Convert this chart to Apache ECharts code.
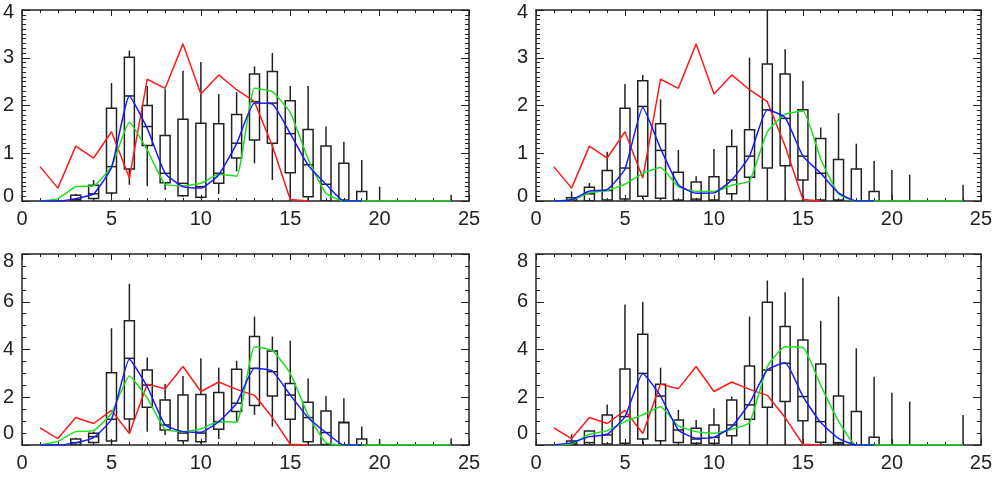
<!DOCTYPE html>
<html>
<head>
<meta charset="utf-8">
<script src="https://cdn.jsdelivr.net/npm/echarts@6/dist/echarts.min.js"></script>
<style>
html, body { margin: 0; padding: 0; background: #fff; }
#chart { width: 995px; height: 489px; }
</style>
</head>
<body>
<div id="chart"></div>
<script>
// x positions 1..24
const xs = [1, 2, 3, 4, 5, 6, 7, 8, 9, 10, 11, 12, 13, 14, 15, 16, 17, 18, 19, 20, 21, 22, 23, 24];

// red line, same in all panels (x = 1..16)
const redLine = [0.72, 0.27, 1.15, 0.9, 1.45, 0.48, 2.55, 2.36, 3.29, 2.24, 2.64, 2.33, 2.08, 1.15, 0.03, 0];

// blue / green lines per panel
const tlBlue = [0, 0, 0.05, 0.15, 0.7, 2.2, 1.52, 0.58, 0.3, 0.27, 0.55, 1.2, 2.05, 2.03, 1.41, 0.75, 0.35, 0, 0];
const tlGreen = [0, 0.05, 0.3, 0.32, 0.72, 1.65, 1.07, 0.35, 0.32, 0.37, 0.56, 0.52, 2.36, 2.29, 1.85, 0.88, 0.16, 0, 0, 0, 0, 0, 0, 0];
const trBlue = [0, 0.02, 0.21, 0.24, 0.67, 1.96, 1.1, 0.34, 0.16, 0.17, 0.44, 0.94, 1.91, 1.75, 0.94, 0.58, 0.17, 0, 0];
const trGreen = [0, 0.02, 0.17, 0.22, 0.35, 0.58, 0.7, 0.3, 0.2, 0.2, 0.33, 0.42, 1.45, 1.82, 1.88, 0.88, 0.15, 0, 0, 0, 0, 0, 0, 0];
const blBlue = [0, 0, 0.1, 0.31, 1.08, 3.59, 2.44, 0.84, 0.56, 0.53, 0.98, 1.75, 3.21, 3.1, 2.09, 1.15, 0.52, 0, 0];
const blGreen = [0, 0.15, 0.56, 0.6, 1.33, 2.89, 1.96, 0.66, 0.56, 0.67, 0.98, 0.95, 4.12, 3.95, 3.0, 1.26, 0.1, 0, 0, 0, 0, 0, 0, 0];
const brBlue = [0, 0.1, 0.35, 0.45, 1.19, 3.0, 2.05, 0.63, 0.28, 0.32, 0.77, 1.75, 3.15, 3.45, 2.03, 0.94, 0.28, 0, 0];
const brGreen = [0, 0.05, 0.45, 0.6, 0.98, 1.26, 1.6, 0.8, 0.56, 0.49, 0.66, 0.94, 3.28, 4.12, 4.09, 2.5, 1.0, 0, 0, 0, 0, 0, 0, 0];

// boxes: [min, q1, median, q3, max] for x = 1..24 (null = none)
const tlBoxes = [null, null,
  [0, 0, 0.03, 0.12, 0.15], [0, 0.05, 0.15, 0.33, 0.44], [0.12, 0.17, 0.72, 1.94, 2.47],
  [0.34, 0.67, 2.2, 3.01, 3.15], [0.31, 1.16, 1.56, 2.0, 2.41], [0.23, 0.38, 0.58, 1.37, 2.34],
  [0.09, 0.11, 0.37, 1.71, 2.73], [0.05, 0.08, 0.3, 1.63, 2.91], [0.15, 0.37, 0.58, 1.62, 2.24],
  [0.62, 0.9, 1.21, 1.81, 2.28], [0.79, 1.28, 2.08, 2.66, 2.82], [0.44, 1.21, 2.05, 2.71, 3.1],
  [0, 0.59, 1.41, 2.1, 2.41], [0, 0.09, 0.76, 1.5, 2.41], [0, 0, 0.35, 1.15, 1.56],
  [0, 0, 0.02, 0.79, 1.24], [0, 0, 0, 0.2, 0.86], [0, 0, 0, 0, 0.3],
  null, null, null, [0, 0, 0, 0, 0.13]];
const trBoxes = [null,
  [0, 0, 0.02, 0.07, 0.2], [0, 0, 0.15, 0.29, 0.38], [0, 0.02, 0.22, 0.64, 1.03],
  [0, 0.04, 0.69, 1.94, 2.45], [0.04, 0.1, 1.98, 2.52, 2.64], [0.02, 0.06, 1.06, 1.62, 2.13],
  [0, 0, 0.02, 0.6, 1.07], [0, 0, 0.04, 0.4, 0.52], [0, 0, 0.02, 0.51, 1.09],
  [0, 0.15, 0.44, 1.14, 1.5], [0, 0.5, 0.94, 1.49, 3.0], [0, 0.69, 1.91, 2.87, 4.0],
  [0, 0.74, 1.73, 2.66, 3.18], [0, 0.44, 0.94, 1.91, 2.52], [0, 0.02, 0.58, 1.31, 1.54],
  [0, 0, 0.02, 0.87, 1.84], [0, 0, 0, 0.67, 1.2], [0, 0, 0, 0.2, 0.84],
  [0, 0, 0, 0, 0.65], [0, 0, 0, 0, 0.55], null, null, [0, 0, 0, 0, 0.34]];
const blBoxes = [null, null,
  [0, 0, 0.1, 0.25, 0.3], [0.05, 0.1, 0.35, 0.49, 0.56], [0.04, 0.17, 1.08, 3.03, 4.89],
  [0.49, 1.09, 3.63, 5.2, 6.75], [0.56, 1.58, 2.51, 3.14, 3.67], [0.42, 0.63, 0.84, 1.89, 2.56],
  [0.07, 0.18, 0.5, 2.09, 2.89], [0.05, 0.14, 0.5, 2.12, 3.63], [0.25, 0.66, 0.98, 2.2, 3.24],
  [0.98, 1.4, 1.75, 3.17, 3.53], [1.26, 1.65, 3.21, 4.54, 5.38], [0.77, 2.05, 3.07, 3.94, 4.54],
  [0.04, 1.08, 2.09, 2.58, 4.37], [0, 0.14, 1.15, 1.79, 2.79], [0, 0.02, 0.52, 1.42, 2.05],
  [0, 0, 0.93, 0.95, 1.96], [0, 0, 0, 0.25, 0.77], [0, 0, 0, 0, 0.25],
  null, null, null, [0, 0, 0, 0, 0.28]];
const brBoxes = [null,
  [0, 0, 0.05, 0.17, 0.45], [0, 0, 0.1, 0.59, 0.62], [0, 0.04, 0.42, 1.26, 1.7],
  [0, 0.07, 1.19, 3.18, 5.89], [0.04, 0.25, 3.0, 4.64, 6.0], [0, 0.18, 2.05, 2.54, 3.24],
  [0, 0.1, 0.63, 1.05, 1.47], [0, 0.07, 0.25, 0.7, 1.05], [0, 0.07, 0.32, 0.84, 1.54],
  [0, 0.39, 0.84, 1.89, 2.03], [0, 1.08, 1.68, 3.31, 5.38], [0, 1.58, 3.14, 5.98, 6.89],
  [0, 1.82, 3.42, 4.96, 6.4], [0, 1.02, 2.03, 4.4, 7.01], [0, 0.11, 0.98, 3.39, 5.2],
  [0, 0.04, 0.1, 2.05, 6.22], [0, 0, 0, 1.4, 4.05], [0, 0, 0, 0.32, 2.86],
  [0, 0, 0, 0, 2.19], [0, 0, 0, 0, 1.82], null, null, [0, 0, 0, 0, 1.26]];

const panels = [
  { boxes: tlBoxes, blue: tlBlue, green: tlGreen, yMax: 4, yStep: 1, yMinor: 10, lo: 10, hi: 4, grid: { left: 18, top: 10, width: 451, height: 191 } },
  { boxes: trBoxes, blue: trBlue, green: trGreen, yMax: 4, yStep: 1, yMinor: 10, lo: 10, hi: 4, grid: { left: 536, top: 10, width: 453, height: 191 } },
  { boxes: blBoxes, blue: blBlue, green: blGreen, yMax: 8, yStep: 2, yMinor: 4, lo: 24, hi: 15, grid: { left: 18, top: 254, width: 451, height: 191 } },
  { boxes: brBoxes, blue: brBlue, green: brGreen, yMax: 8, yStep: 2, yMinor: 4, lo: 24, hi: 15, grid: { left: 536, top: 254, width: 453, height: 191 } }
];

const frame = { onZero: false, lineStyle: { color: '#222', width: 1.5 } };
const boxColor = '#222';
const font = { fontSize: 20, color: '#222', fontFamily: 'Liberation Sans, Arial, sans-serif' };

function renderBox(params, api) {
  const x = api.value(0);
  const p = [1, 2, 3, 4, 5].map(i => api.coord([x, api.value(i)]));
  const hw = 5;
  const style = { stroke: boxColor, lineWidth: 1.5, fill: 'none' };
  const children = [
    { type: 'line', shape: { x1: p[0][0], y1: p[0][1], x2: p[1][0], y2: p[1][1] }, style },
    { type: 'line', shape: { x1: p[3][0], y1: p[3][1], x2: p[4][0], y2: p[4][1] }, style }
  ];
  if (p[1][1] - p[3][1] > 0.5) {
    children.push({ type: 'rect', shape: { x: p[3][0] - hw, y: p[3][1], width: hw * 2, height: p[1][1] - p[3][1] }, style });
    children.push({ type: 'line', shape: { x1: p[2][0] - hw, y1: p[2][1], x2: p[2][0] + hw, y2: p[2][1] }, style });
  }
  return { type: 'group', children };
}

function lineData(arr) {
  return arr.map((v, i) => [xs[i], v]);
}

const grid = [], xAxis = [], yAxis = [], series = [];

panels.forEach((pn, i) => {
  grid.push(pn.grid);
  const xBase = {
    type: 'value', gridIndex: i, min: 0, max: 25, interval: 5,
    axisLine: frame,
    axisTick: { inside: true, length: 6, lineStyle: { color: '#222' } },
    minorTick: { show: true, splitNumber: 5, length: 3, lineStyle: { color: '#222' } },
    splitLine: { show: false }
  };
  xAxis.push(Object.assign({}, xBase, {
    position: 'bottom',
    axisLabel: Object.assign({}, font, { margin: 8 })
  }));
  xAxis.push(Object.assign({}, xBase, { position: 'top', axisLabel: { show: false } }));

  const yBase = {
    type: 'value', gridIndex: i, min: 0, max: pn.yMax, interval: pn.yStep,
    axisLine: frame,
    axisTick: { inside: true, length: 8, lineStyle: { color: '#222' } },
    minorTick: { show: true, splitNumber: pn.yMinor, length: 4, lineStyle: { color: '#222' } },
    splitLine: { show: false }
  };
  yAxis.push(Object.assign({}, yBase, {
    position: 'left',
    axisLabel: Object.assign({}, font, {
      margin: 8,
      formatter: v => v === 0 ? '{lo|0}' : (v === pn.yMax ? '{hi|' + v + '}' : String(v)),
      rich: {
        lo: Object.assign({}, font, { padding: [0, 0, pn.lo, 0] }),
        hi: Object.assign({}, font, { padding: [pn.hi, 0, 0, 0] })
      }
    })
  }));
  yAxis.push(Object.assign({}, yBase, { position: 'right', axisLabel: { show: false } }));

  const boxData = [];
  pn.boxes.forEach((b, k) => { if (b) boxData.push([xs[k]].concat(b)); });

  series.push({
    type: 'custom', xAxisIndex: i * 2, yAxisIndex: i * 2, clip: true,
    renderItem: renderBox, encode: { x: 0, y: [1, 2, 3, 4, 5] },
    data: boxData, z: 2
  });
  const lineBase = { type: 'line', xAxisIndex: i * 2, yAxisIndex: i * 2, showSymbol: false, clip: true, z: 3 };
  series.push(Object.assign({}, lineBase, { data: lineData(redLine), lineStyle: { color: '#ff1a1a', width: 1.5 } }));
  series.push(Object.assign({}, lineBase, { data: lineData(pn.green), smooth: 0.15, lineStyle: { color: '#1ee01e', width: 1.5 } }));
  series.push(Object.assign({}, lineBase, { data: lineData(pn.blue), smooth: 0.15, lineStyle: { color: '#1a1aff', width: 1.5 } }));
});

const chart = echarts.init(document.getElementById('chart'));
chart.setOption({
  animation: false,
  backgroundColor: '#fff',
  grid, xAxis, yAxis, series
});
</script>
</body>
</html>
